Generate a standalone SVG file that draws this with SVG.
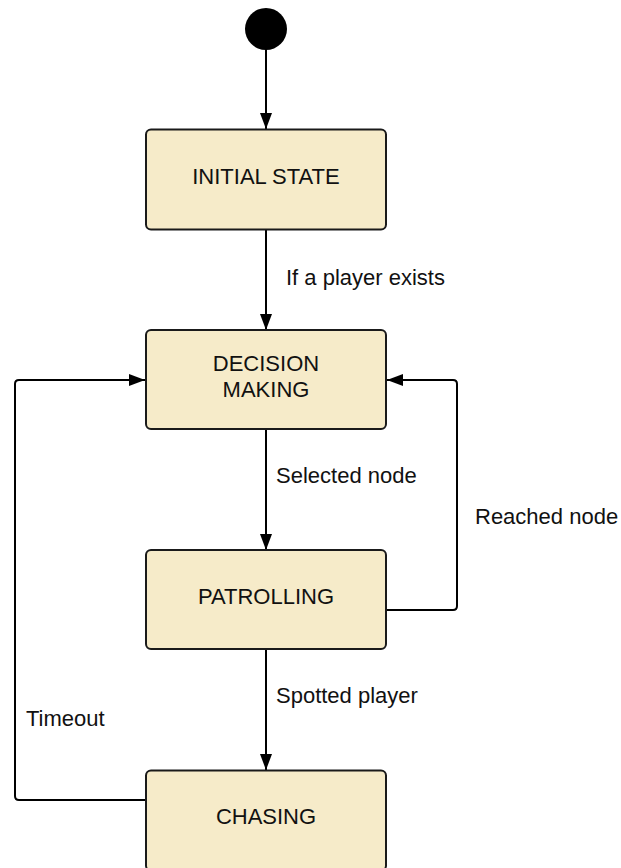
<svg xmlns="http://www.w3.org/2000/svg" width="621" height="868" viewBox="0 0 621 868">
  <style>
    .state rect { fill: #f6ebc9; stroke: #1a1a1a; stroke-width: 2; }
    .state text { font-family: "Liberation Sans", Arial, sans-serif; font-size: 22px; fill: #111; text-anchor: middle; }
    .edge { fill: none; stroke: #000; stroke-width: 2; }
    .label { font-family: "Liberation Sans", Arial, sans-serif; font-size: 22px; fill: #111; }
  </style>
  <defs>
    <marker id="arrow" viewBox="0 0 16 12" refX="16" refY="6" markerWidth="16" markerHeight="12" markerUnits="userSpaceOnUse" orient="auto">
      <path d="M0,0 L16,6 L0,12 Z" fill="#000"/>
    </marker>
  </defs>

  <rect width="621" height="868" fill="#fff"/>

  <!-- start pseudo-state -->
  <g id="start">
    <circle cx="266" cy="29" r="21" fill="#000"/>
  </g>

  <g id="connectors">
    <path class="edge" d="M266,50 V129" marker-end="url(#arrow)"/>
    <path class="edge" d="M266,230 V330" marker-end="url(#arrow)"/>
    <path class="edge" d="M266,430 V550" marker-end="url(#arrow)"/>
    <path class="edge" d="M266,650 V770" marker-end="url(#arrow)"/>
    <path class="edge" d="M386,610 H453 Q457,610 457,606 V384 Q457,380 453,380 H387" marker-end="url(#arrow)"/>
    <path class="edge" d="M146,800 H19 Q15,800 15,796 V384 Q15,380 19,380 H145" marker-end="url(#arrow)"/>
  </g>

  <g id="labels">
    <text class="label" x="286" y="285">If a player exists</text>
    <text class="label" x="276" y="483">Selected node</text>
    <text class="label" x="475" y="524">Reached node</text>
    <text class="label" x="276" y="703">Spotted player</text>
    <text class="label" x="26" y="726">Timeout</text>
  </g>

  <g id="initial-state" class="state">
    <rect x="146" y="129.5" width="240" height="100" rx="5"/>
    <text x="266" y="184">INITIAL STATE</text>
  </g>

  <g id="decision-making" class="state">
    <rect x="146" y="330" width="240" height="99" rx="5"/>
    <text x="266" y="371">DECISION</text>
    <text x="266" y="397">MAKING</text>
  </g>

  <g id="patrolling" class="state">
    <rect x="146" y="550" width="240" height="99" rx="5"/>
    <text x="266" y="604">PATROLLING</text>
  </g>

  <g id="chasing" class="state">
    <rect x="146" y="770.5" width="240" height="100" rx="5"/>
    <text x="266" y="824">CHASING</text>
  </g>
</svg>
